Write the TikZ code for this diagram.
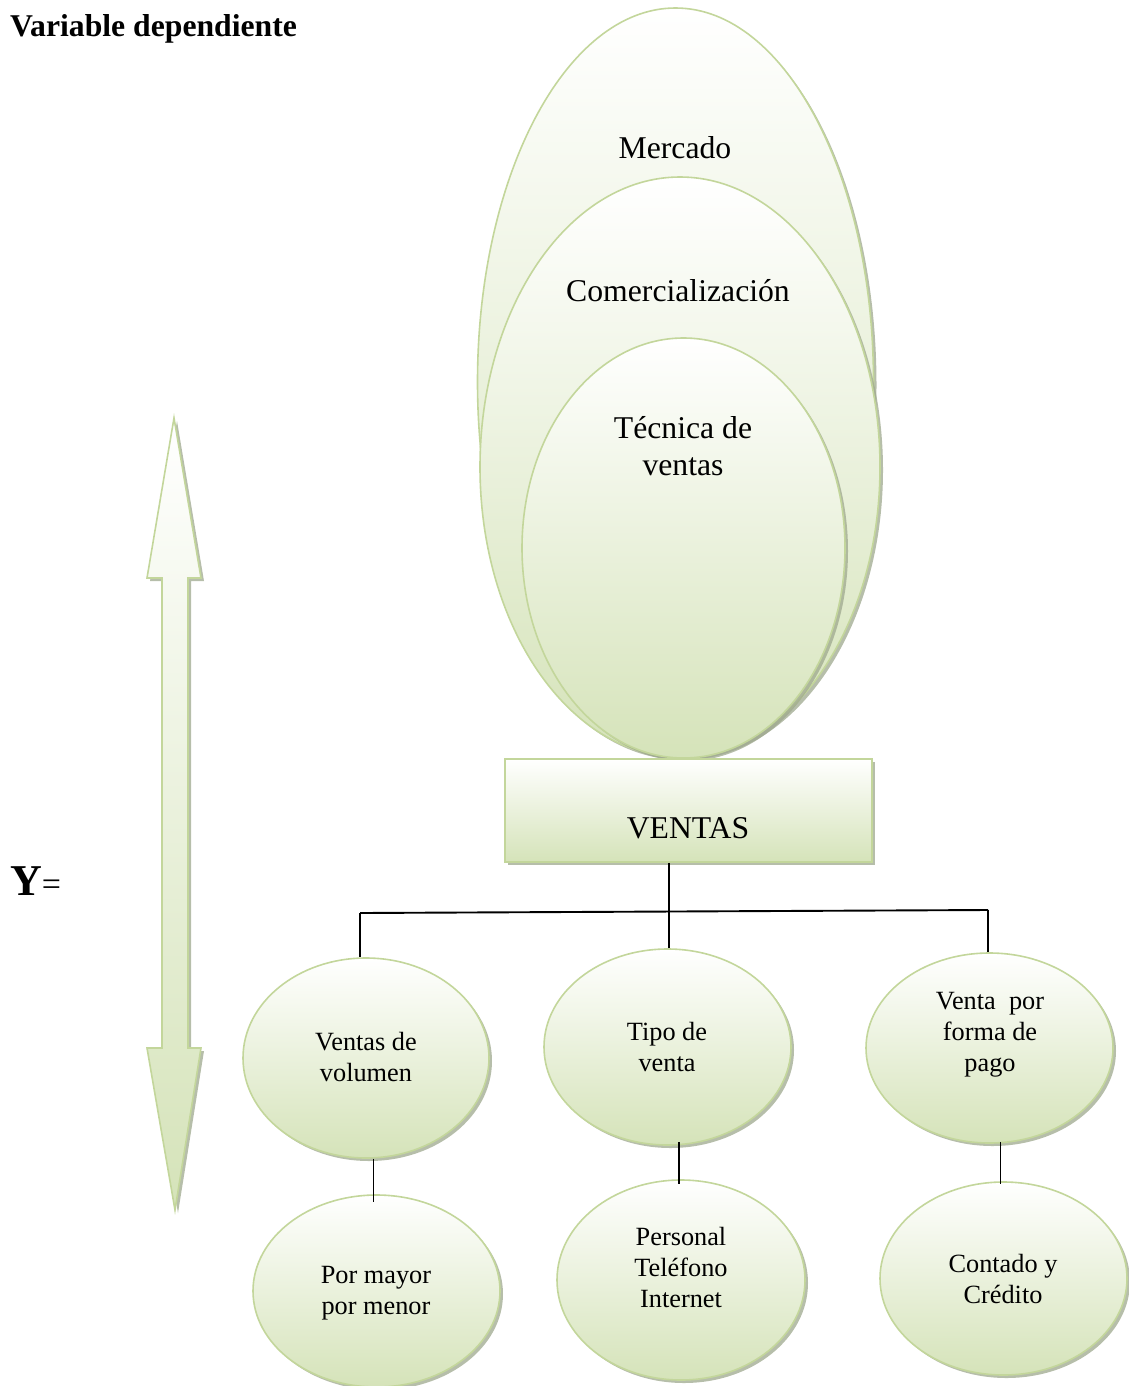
\documentclass[tikz,border=0pt]{standalone}
\usepackage{fontspec}
\setmainfont{Liberation Serif}
\usetikzlibrary{shapes.geometric,shadows,calc}

\definecolor{leafline}{HTML}{C3D69B}
\definecolor{leaffill}{HTML}{D5E3B9}
\definecolor{leafshadow}{HTML}{9EA88E}

\newcommand{\bigtxt}{\fontsize{31.7}{37}\selectfont}
\newcommand{\smalltxt}{\fontsize{26.3}{31}\selectfont}

\tikzset{
  leafshade/.style={top color=white, bottom color=leaffill},
  leafdrop/.style={drop shadow={shadow xshift=3pt, shadow yshift=-3pt, fill=leafshadow, opacity=0.75}},
  bubble/.style={ellipse, draw=leafline, line width=1.6pt, leafshade, leafdrop, inner sep=0pt},
  panel/.style={rectangle, draw=leafline, line width=1.6pt, leafshade, leafdrop, inner sep=0pt},
  caption/.style={align=center, text=black, inner sep=0pt},
  link/.style={draw=black, line width=1.9pt},
}

\begin{document}
\begin{tikzpicture}[x=1pt, y=-1pt]
\useasboundingbox (0,0) rectangle (1128,1386);

% heading and left label
\node[anchor=base west, inner sep=0pt, font=\bigtxt\bfseries] (title) at (10,37) {Variable dependiente};
\node[anchor=base west, inner sep=0pt] (yeq) at (10,895) {{\fontsize{44}{50}\selectfont\bfseries Y}{\fontsize{34}{40}\selectfont=}};

% vertical double arrow
\fill[leafshadow, opacity=0.75, shift={(3,3)}]
  (174,418) -- (201,578) -- (188,578) -- (188,1048) -- (201,1048) -- (175,1210)
  -- (147,1048) -- (162,1048) -- (162,578) -- (147,578) -- cycle;
\draw[leafline, line width=1.6pt, leafshade, line join=miter]
  (174,418) -- (201,578) -- (188,578) -- (188,1048) -- (201,1048) -- (175,1210)
  -- (147,1048) -- (162,1048) -- (162,578) -- (147,578) -- cycle;

% nested ellipses
\node[bubble, minimum width=396pt, minimum height=748pt] (mercado) at (675.5,382) {};
\node[caption, font=\bigtxt] (mercadoT) at (675,148) {Mercado};
\node[bubble, minimum width=400pt, minimum height=580pt] (comer) at (680,467) {};
\node[caption, font=\bigtxt] (comerT) at (678,291) {Comercialización};
\node[bubble, minimum width=323pt, minimum height=420pt] (tecnica) at (683.5,548) {};
\node[caption, font=\bigtxt] (tecnicaT) at (683,446) {Técnica de\\ventas};

% main box
\node[panel, minimum width=367pt, minimum height=103pt] (ventas) at (688.5,810.5) {};
\node[caption, font=\bigtxt] (ventasT) at (688,828) {VENTAS};

% second row
\node[bubble, minimum width=246pt, minimum height=200pt] (vol) at (366,1058) {};
\node[caption, font=\smalltxt] (volT) at (366,1057) {Ventas de\\volumen};
\node[bubble, minimum width=247pt, minimum height=196pt] (tipo) at (667.5,1047) {};
\node[caption, font=\smalltxt] (tipoT) at (667,1047) {Tipo de\\venta};
\node[bubble, minimum width=247pt, minimum height=190pt] (pago) at (989.5,1048) {};
\node[caption, font=\smalltxt] (pagoT) at (990,1035) {Venta\ \ por\\forma de\\pago};

% third row
\node[bubble, minimum width=247pt, minimum height=192pt] (mayor) at (376.5,1291) {};
\node[caption, font=\smalltxt] (mayorT) at (376,1293) {Por mayor\\por menor};
\node[bubble, minimum width=248pt, minimum height=200pt] (personal) at (681,1280) {};
\node[caption, font=\smalltxt] (personalT) at (681,1267) {Personal\\Teléfono\\Internet};
\node[bubble, minimum width=247pt, minimum height=193pt] (contado) at (1003.5,1278.5) {};
\node[caption, font=\smalltxt] (contadoT) at (1003,1279) {Contado y\\Crédito};

% connectors
\coordinate (busL) at (360,913);
\coordinate (busM) at (669,911.5);
\coordinate (busR) at (988,910);
\draw[link] (ventas.south -| busM) -- (busM |- tipo.north);
\draw[link] (busL) -- (busR);
\draw[link] (busL) -- (busL |- vol.north);
\draw[link] (busR) -- (busR |- pago.north);
\draw[link] ($(vol.south -| mayor.north)+(-3,0)$) -- ($(mayor.north)+(-3,8)$);
\draw[link] ($(tipo.south -| personal.north)+(-2,-4)$) -- ($(personal.north)+(-2,5)$);
\draw[link] ($(pago.south -| contado.north)+(-3,-2)$) -- ($(contado.north)+(-3,3)$);
\end{tikzpicture}
\end{document}
